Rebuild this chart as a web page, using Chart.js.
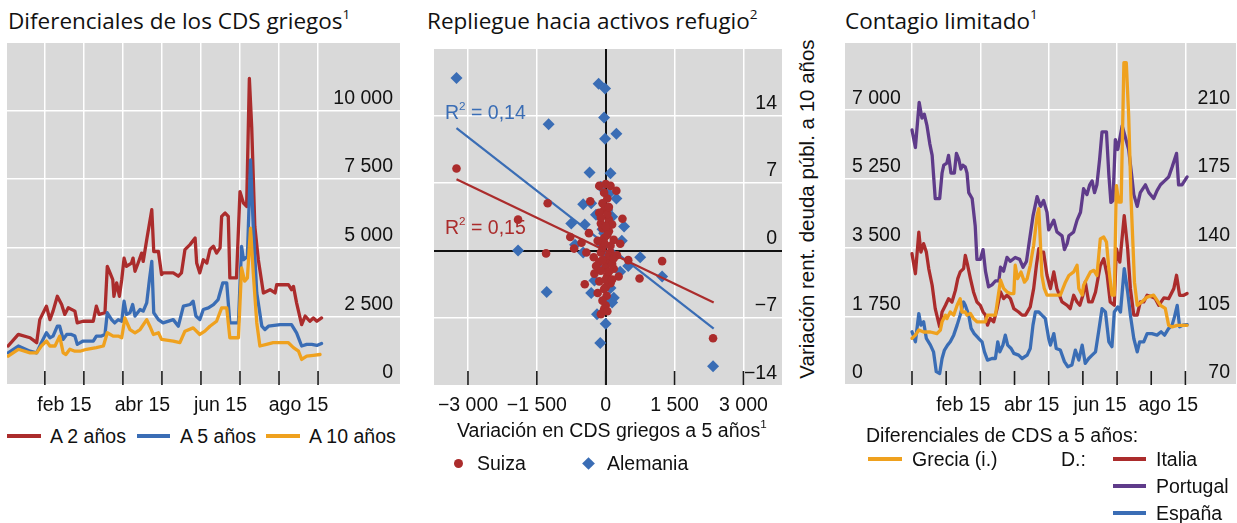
<!DOCTYPE html>
<html><head><meta charset="utf-8">
<script src="https://cdn.jsdelivr.net/npm/chart.js@4/dist/chart.umd.min.js"></script>
<style>
body{margin:0;background:#fff;width:1237px;height:523px;overflow:hidden;position:relative;font-family:'Liberation Sans',Arial,sans-serif;color:#111}
.t{position:absolute;white-space:nowrap;font-size:19.5px;line-height:22px}
.ttl{position:absolute;white-space:nowrap;font-family:'Open Sans',sans-serif;font-size:22.5px;line-height:26px;color:#111}
sup{font-size:0.6em;vertical-align:0.75em;line-height:0}
.sw{position:absolute;height:4px}
.cv{position:absolute}
</style></head><body>
<div class="ttl" style="left:8px;top:8px">Diferenciales de los CDS griegos<sup>1</sup></div>
<div class="ttl" style="left:427px;top:8px">Repliegue hacia activos refugio<sup>2</sup></div>
<div class="ttl" style="left:845px;top:8px">Contagio limitado<sup>1</sup></div>

<canvas id="c1" class="cv" width="393" height="382" style="left:7px;top:43px"></canvas>
<canvas id="c2" class="cv" width="360" height="382" style="left:428px;top:43px"></canvas>
<canvas id="c3" class="cv" width="391" height="382" style="left:845px;top:43px"></canvas>

<!-- panel 1 legend -->
<div class="sw" style="left:7px;top:434px;width:34px;background:#AB2C2C"></div><div class="t" style="left:50px;top:425px">A 2 años</div>
<div class="sw" style="left:137px;top:434px;width:33px;background:#3A6DB5"></div><div class="t" style="left:180px;top:425px">A 5 años</div>
<div class="sw" style="left:266px;top:434px;width:34px;background:#EFA11E"></div><div class="t" style="left:309px;top:425px">A 10 años</div>

<!-- panel 2 texts -->
<div class="t" style="left:445px;top:101px;color:#3A6DB5">R<sup>2</sup> = 0,14</div>
<div class="t" style="left:445px;top:216px;color:#AB2C2C">R<sup>2</sup> = 0,15</div>
<div class="t" style="left:457px;top:419px">Variación en CDS griegos a 5 años<sup>1</sup></div>
<div class="t" style="left:807px;top:198px;width:400px;margin-left:-200px;text-align:center;font-size:20.5px;transform:rotate(-90deg)">Variación rent. deuda públ. a 10 años</div>
<div style="position:absolute;left:454px;top:459px;width:9px;height:9px;border-radius:50%;background:#AB2C2C"></div><div class="t" style="left:477px;top:452px">Suiza</div>
<div style="position:absolute;left:584px;top:459px;width:9px;height:9px;background:#3A6DB5;transform:rotate(45deg)"></div><div class="t" style="left:607px;top:452px">Alemania</div>

<!-- panel 3 legend -->
<div class="t" style="left:866px;top:424px">Diferenciales de CDS a 5 años:</div>
<div class="sw" style="left:868px;top:457px;width:34px;background:#EFA11E"></div><div class="t" style="left:912px;top:448px">Grecia (i.)</div>
<div class="t" style="left:1061px;top:448px">D.:</div>
<div class="sw" style="left:1113px;top:457px;width:33px;background:#AB2C2C"></div><div class="t" style="left:1156px;top:448px">Italia</div>
<div class="sw" style="left:1113px;top:484px;width:33px;background:#5F3B8A"></div><div class="t" style="left:1156px;top:475px">Portugal</div>
<div class="sw" style="left:1113px;top:511px;width:33px;background:#3A6DB5"></div><div class="t" style="left:1156px;top:502px">España</div>

<script>
// ---------- colours ----------
const RED='#AB2C2C', BLUE='#3A6DB5', ORANGE='#EFA11E', PURPLE='#5F3B8A', GRAY='#D9D9D9';

// ---------- Panel 1: Greek CDS spreads (x = months since 1 Jan 2015) ----------
const p1X2y=[0.06,0.32,0.62,0.79,0.87,1.04,1.13,1.21,1.32,1.43,1.51,1.60,1.77,1.83,1.98,2.24,2.32,2.39,2.54,2.60,2.67,2.74,2.77,2.84,2.91,2.97,3.03,3.09,3.22,3.26,3.31,3.39,3.48,3.52,3.61,3.74,3.79,3.91,3.99,4.03,4.29,4.42,4.50,4.59,4.72,4.85,4.89,4.97,5.06,5.15,5.23,5.32,5.40,5.49,5.53,5.62,5.70,5.74,5.91,6.00,6.09,6.17,6.24,6.30,6.38,6.47,6.60,6.77,6.90,6.94,7.24,7.32,7.37,7.45,7.58,7.67,7.79,7.88,7.97,8.09];
const p1Y2y=[1420,1840,1720,1540,2380,2870,2380,2690,3230,2930,2570,2810,2690,2260,2320,2320,2870,2570,2630,4320,4080,3840,3230,3720,3230,3840,4620,4320,4440,4620,4140,4440,4800,4500,5290,6380,4860,4860,4020,4080,4080,3960,4080,4930,5110,5350,4440,4080,4560,4440,4930,5050,4800,4990,6140,6260,6140,3900,3900,7040,6620,6500,11160,9400,5770,4560,3350,3470,3350,3650,3650,3470,3590,2990,2200,2510,2320,2440,2320,2440];
const p1X5y=[0.06,0.32,0.62,0.79,0.91,1.04,1.13,1.21,1.32,1.38,1.47,1.56,1.68,1.77,1.83,1.98,2.24,2.32,2.45,2.54,2.60,2.71,2.79,2.88,2.97,3.03,3.09,3.18,3.25,3.31,3.44,3.52,3.61,3.68,3.74,3.79,3.91,4.03,4.29,4.42,4.55,4.72,4.80,4.87,4.97,5.06,5.19,5.32,5.44,5.56,5.66,5.74,5.96,6.04,6.09,6.19,6.27,6.34,6.43,6.56,6.64,6.73,7.03,7.32,7.45,7.58,7.71,7.84,7.97,8.09];
const p1Y5y=[1170,1420,1230,1170,1540,1900,1720,1780,2140,2140,1660,1840,1840,1780,1480,1600,1600,1780,1780,1840,2630,2380,2260,2380,2320,3050,2570,2630,2930,2510,2750,2690,2990,3840,4500,2630,2380,2260,2380,2140,2870,2930,3050,2510,2380,2750,2810,2930,3110,3720,3720,2260,2260,5050,4560,4680,8190,5770,3350,2140,2020,2140,2200,2200,1900,1420,1480,1480,1440,1510];
const p1X10y=[0.06,0.32,0.62,0.79,0.91,1.04,1.13,1.26,1.38,1.47,1.54,1.64,1.77,1.90,2.07,2.32,2.50,2.60,2.75,2.88,2.97,3.05,3.18,3.31,3.44,3.61,3.69,3.78,3.91,3.99,4.29,4.46,4.59,4.80,4.97,5.10,5.23,5.40,5.53,5.66,5.74,5.96,6.04,6.12,6.19,6.27,6.34,6.43,6.51,6.68,6.85,7.24,7.37,7.50,7.58,7.71,7.88,8.05];
const p1Y10y=[1050,1300,1170,1170,1420,1600,1420,1420,1780,1170,1110,1300,1230,1230,1300,1360,1420,1900,1780,1780,1720,2440,2020,1900,2020,2380,2140,1840,1900,1660,1600,1540,1960,2080,1840,1960,2140,2320,2810,2810,1720,1720,4260,3780,3900,5710,4080,2260,1420,1480,1540,1540,1360,1230,930,1050,1080,1110];
const p1YTicks=[0,2500,5000,7500,10000];
const p1YLabels=['0','2 500','5 000','7 500','10 000'];
const p1MonthStarts=[1,2,3,4,5,6,7,8];
const p1LabelPos=[1.5,3.5,5.5,7.5];
const p1Labels=['feb 15','abr 15','jun 15','ago 15'];

// ---------- Panel 2: scatter ----------
const suizaX=[-3250,-1264,-1909,-1299,-772,-688,-526,-365,-337,-140,0,105,232,35,-70,-35,365,-70,70,176,316,-421,-260,-105,105,246,491,737,1229,-140,0,176,-246,35,281,-456,-140,105,-175,0,21,0,-105,-35,-140,70,-105,140,-35,105,-70,35,140,-105,2338,-35,70,-70,35,0,70,-35,140,-175,0,-105,35,-35,70,175,-210,35,-70];
const suizaY=[8.5,4.9,3.2,-0.3,1.4,0.2,0.8,1.8,5.1,6.7,6.9,6.7,6.2,5.4,4.9,4.2,3.3,2.3,2.0,1.1,0.7,-0.2,-0.7,-0.2,-0.2,-0.5,-1.0,-2.9,-1.1,-1.2,-1.7,-1.9,-2.4,-2.6,-2.7,-3.5,-3.2,-3.4,-4.4,-3.8,-4.7,-5.7,-6.6,-6.1,3.9,3.2,2.8,2.7,1.3,0.5,0.3,-0.9,-1.4,-2.1,-9.1,0.8,-0.5,-1.0,1.6,-3.0,-2.2,-4.0,-3.0,1.0,2.5,3.4,3.8,6.0,4.5,-0.8,-1.6,-6.3,-5.2];
const alemX=[-3250,-154,-14,-1243,-35,232,-14,-351,105,232,-491,-316,-211,-751,-456,400,351,-667,-491,-1909,-1285,751,1229,491,316,-246,-316,176,140,-190,0,-119,-35,35,-140,70,-105,70,140,-70,35,105,2338,0,-70,35];
const alemY=[17.9,17.3,16.8,13.1,13.8,12.1,11.6,8.1,8.0,5.4,4.8,4.9,3.7,2.8,2.7,2.5,1.0,0.6,-0.2,0.0,-4.3,-0.7,-2.7,-1.6,-2.2,-3.1,-4.4,-4.9,-5.4,-6.6,-7.6,-9.6,1.8,4.2,-1.9,-3.2,6.6,5.9,3.5,2.2,-0.5,-3.9,-12.0,-5.0,0.5,-1.2];
const fitX=[-3250,2352];
const fitSuizaY=[7.4,-5.4];
const fitAlemY=[12.7,-8.1];
const p2XTicks=[-3000,-1500,0,1500,3000];
const p2XLabels=['\u22123 000','\u22121 500','0','1 500','3 000'];
const p2YTicks=[-14,-7,0,7,14];
const p2YLabels=['\u221214','\u22127','0','7','14'];

// ---------- Panel 3: contagion (x = months since 1 Jan 2015) ----------
const greX=[0,0.10,0.20,0.34,0.54,0.73,0.83,0.88,0.98,1.02,1.12,1.22,1.32,1.41,1.46,1.56,1.61,1.71,1.80,1.90,2.05,2.15,2.21,2.34,2.44,2.59,2.68,2.78,2.88,2.98,3.02,3.09,3.19,3.29,3.37,3.46,3.56,3.66,3.71,3.76,3.80,3.87,3.95,4.15,4.34,4.49,4.59,4.73,4.83,4.88,4.98,5.02,5.12,5.22,5.32,5.41,5.51,5.61,5.69,5.76,5.85,5.92,5.98,6.05,6.12,6.20,6.27,6.34,6.41,6.51,6.59,6.73,6.88,7.07,7.27,7.41,7.51,7.61,7.76,8.05];
const greY=[1190,1270,1400,1350,1350,1310,1400,1610,1780,1690,1860,1780,2030,2200,1860,1860,1780,1820,1690,1610,1610,1610,1780,1780,1780,2670,2460,2370,2330,2330,3050,2710,2880,2620,2710,3050,3560,4320,4490,3560,2790,2460,2290,2290,2290,2620,2790,2880,3050,2460,2290,2540,2710,2880,2920,2790,3720,3770,3640,2960,2290,2290,5080,4660,4660,8210,8210,6860,4740,2620,2030,2120,2240,2290,2030,1950,1520,1480,1520,1520];
const itaX=[0,0.10,0.20,0.26,0.34,0.42,0.49,0.59,0.68,0.81,0.88,0.98,1.07,1.17,1.27,1.34,1.41,1.51,1.56,1.63,1.71,1.80,1.90,2.00,2.08,2.15,2.21,2.29,2.39,2.49,2.59,2.68,2.78,2.88,2.98,3.12,3.22,3.32,3.46,3.56,3.64,3.71,3.76,3.85,3.95,4.05,4.15,4.24,4.39,4.54,4.63,4.73,4.83,4.91,5.00,5.07,5.17,5.27,5.37,5.51,5.61,5.71,5.80,5.92,5.98,6.08,6.21,6.31,6.39,6.49,6.59,6.68,6.78,6.88,7.02,7.12,7.22,7.37,7.51,7.66,7.74,7.83,7.95,8.05];
const itaY=[136.9,126.7,147.9,137.7,142.0,137.7,129.3,120.8,108.9,99.6,107.2,110.6,114.0,112.3,118.2,124.2,127.6,129.3,136.0,130.9,124.2,117.4,112.3,110.6,107.2,105.6,100.5,103.9,102.2,108.9,117.4,114.0,115.7,114.0,108.9,107.2,105.6,105.6,109.8,119.1,130.9,139.4,137.7,137.7,125.9,119.1,127.6,119.1,112.3,110.6,108.9,115.7,112.3,110.6,115.7,122.5,112.3,112.3,117.4,130.9,134.3,125.9,112.3,110.6,139.4,132.6,156.3,139.4,119.1,105.6,105.6,112.3,112.3,115.7,114.9,114.0,110.6,114.4,114.0,119.1,125.9,115.7,115.7,116.6];
const porX=[0,0.10,0.21,0.29,0.36,0.44,0.52,0.59,0.68,0.81,0.88,0.93,1.02,1.07,1.14,1.24,1.30,1.37,1.43,1.49,1.56,1.61,1.66,1.76,1.85,1.90,2.00,2.08,2.15,2.24,2.34,2.44,2.54,2.59,2.68,2.78,2.88,3.02,3.15,3.25,3.35,3.44,3.54,3.66,3.76,3.85,3.95,4.00,4.15,4.24,4.39,4.46,4.54,4.59,4.73,4.83,4.93,5.02,5.12,5.20,5.27,5.34,5.41,5.49,5.56,5.69,5.76,5.82,5.88,5.95,6.02,6.15,6.34,6.44,6.49,6.59,6.68,6.83,6.93,7.07,7.17,7.27,7.39,7.51,7.61,7.74,7.80,7.90,8.05];
const porY=[200,191,214,206,208,202,193,187,165,165,178,182,183,187,178,178,188,185,180,182,181,178,168,165,151,134,134,139,128,120,121,123,123,130,128,135,133,135,134,130,133,144,156,166,161,164,158,149,154,148,146,139,142,146,148,154,158,170,167,172,174,168,172,185,199,199,177,163,164,195,190,202,190,175,167,161,168,172,168,165,169,172,174,176,181,188,172,172,176];
const espX=[0,0.10,0.20,0.26,0.34,0.42,0.54,0.63,0.71,0.81,0.88,0.95,1.04,1.12,1.22,1.32,1.41,1.51,1.56,1.66,1.73,1.82,1.95,2.05,2.12,2.21,2.34,2.44,2.51,2.57,2.66,2.73,2.80,2.90,2.98,3.12,3.22,3.37,3.46,3.54,3.61,3.71,3.80,3.90,4.00,4.05,4.15,4.22,4.34,4.46,4.56,4.68,4.78,4.88,4.98,5.07,5.17,5.27,5.37,5.46,5.56,5.66,5.76,5.85,5.92,6.02,6.10,6.21,6.31,6.39,6.49,6.59,6.66,6.78,6.88,7.02,7.17,7.29,7.39,7.51,7.61,7.68,7.76,7.83,7.93,8.05];
const espY=[97.1,92.0,106.4,100.5,102.2,93.7,90.3,86.9,76.8,75.9,83.5,87.8,90.3,92.0,95.4,100.5,105.6,112.3,110.6,105.6,98.8,96.2,93.7,92.0,86.9,82.7,83.5,83.5,92.0,86.9,90.3,95.4,90.3,88.6,86.1,85.2,83.5,85.2,88.6,100.5,107.2,107.2,105.6,103.9,93.7,90.3,96.2,88.6,87.8,81.9,79.3,80.2,87.8,82.7,90.3,81.0,83.5,85.2,86.9,97.1,108.9,107.2,92.0,89.5,107.2,109.8,107.2,129.3,117.4,105.6,93.7,86.9,92.0,92.0,96.2,96.2,95.4,97.1,95.4,98.8,100.5,104.7,110.6,99.6,100.5,100.8];
const p3LTicks=[0,1750,3500,5250,7000];
const p3LLabels=['0','1 750','3 500','5 250','7 000'];
const p3RTicks=[70,105,140,175,210];
const p3RLabels=['70','105','140','175','210'];
const p3MonthStarts=[0,1,2,3,4,5,6,7,8];
const p3GridMonths=[0,2,4,6,8];
const p3LabelPos=[1.5,3.5,5.5,7.5];
const p3Labels=['feb 15','abr 15','jun 15','ago 15'];

// ---------- helpers ----------
const zip=(xs,ys)=>xs.slice(0,Math.min(xs.length,ys.length)).map((x,i)=>({x,y:ys[i]}));
Chart.defaults.font.family="'Liberation Sans', Arial, sans-serif";
Chart.defaults.font.size=19.5;
Chart.defaults.color='#111';

const bgPlugin={id:'bgArea',beforeDraw(c){const a=c.chartArea,g=c.ctx;g.save();g.fillStyle=GRAY;g.fillRect(a.left,a.top,a.right-a.left,a.bottom-a.top);g.restore();}};
const innerTicks={id:'innerTicks',beforeDatasetsDraw(c,args,opts){const a=c.chartArea,g=c.ctx,s=c.scales.x;g.save();g.strokeStyle='#1a1a1a';g.lineWidth=1.6;
  (opts.values||[]).forEach(v=>{const px=s.getPixelForValue(v);g.beginPath();g.moveTo(px,a.bottom-14);g.lineTo(px,a.bottom);g.stroke();});g.restore();}};

const yFit=s=>{s.width=0;s.paddingTop=0;s.paddingBottom=0;s.paddingLeft=0;s.paddingRight=0;};
const xFit=s=>{s.height=40;s.paddingTop=0;s.paddingBottom=0;s.paddingLeft=0;s.paddingRight=0;};
const lbl=(ticks,labels)=>v=>{const i=ticks.indexOf(v);return i<0?'':labels[i];};
const near=(a,v)=>a.some(t=>Math.abs(t-v)<1e-6);
const halfSteps=(from,to)=>{const r=[];for(let k=from*2;k<=to*2;k++)r.push({value:k/2});return r;};

const base={responsive:false,maintainAspectRatio:false,animation:false,events:[],
  layout:{padding:0},plugins:{legend:{display:false},tooltip:{enabled:false}}};
const lineDs=(label,xs,ys,color,order,axis)=>({label,data:zip(xs,ys),borderColor:color,backgroundColor:color,borderWidth:3.3,pointRadius:0,tension:0,order,yAxisID:axis||'y',borderJoinStyle:'round',borderCapStyle:'round'});

// ---------- Chart 1 ----------
new Chart(document.getElementById('c1'),{type:'line',
  data:{datasets:[lineDs('A 2 años',p1X2y,p1Y2y,RED,3),lineDs('A 5 años',p1X5y,p1Y5y,BLUE,2),lineDs('A 10 años',p1X10y,p1Y10y,ORANGE,1)]},
  options:{...base,plugins:{...base.plugins,innerTicks:{values:p1MonthStarts}},
    scales:{
      x:{type:'linear',min:0.03,max:10.1,afterBuildTicks:s=>{s.ticks=halfSteps(1,8);},afterFit:xFit,
        grid:{drawTicks:false,lineWidth:1.5,color:c=>near(p1MonthStarts,c.tick.value)?'#fff':'rgba(0,0,0,0)'},border:{display:false},
        ticks:{autoSkip:false,maxRotation:0,padding:9,callback:lbl(p1LabelPos,p1Labels)}},
      y:{position:'right',min:0,max:12450,afterBuildTicks:s=>{s.ticks=p1YTicks.map(v=>({value:v}));},afterFit:yFit,
        grid:{drawTicks:false,lineWidth:1.5,color:'#fff'},border:{display:false},
        ticks:{mirror:true,padding:-7,labelOffset:-12,callback:lbl(p1YTicks,p1YLabels)}}
    }},
  plugins:[bgPlugin,innerTicks]});

// ---------- Chart 2 ----------
new Chart(document.getElementById('c2'),{type:'scatter',
  data:{datasets:[
    {type:'line',label:'fit Suiza',data:zip(fitX,fitSuizaY),borderColor:RED,borderWidth:2.2,pointRadius:0,order:0},
    {label:'Suiza',data:zip(suizaX,suizaY),backgroundColor:RED,borderColor:RED,pointStyle:'circle',pointRadius:4.3,borderWidth:0,order:1},
    {type:'line',label:'fit Alemania',data:zip(fitX,fitAlemY),borderColor:BLUE,borderWidth:2.2,pointRadius:0,order:2},
    {label:'Alemania',data:zip(alemX,alemY),backgroundColor:BLUE,borderColor:BLUE,pointStyle:'rectRot',pointRadius:6,borderWidth:0,order:3}
  ]},
  options:{...base,plugins:{...base.plugins,innerTicks:{values:p2XTicks}},
    scales:{
      x:{type:'linear',min:-3740,max:3840,afterBuildTicks:s=>{s.ticks=p2XTicks.map(v=>({value:v}));},afterFit:xFit,
        grid:{drawTicks:false,lineWidth:c=>c.tick.value===0?2:1.5,color:c=>c.tick.value===0?'#111':'#fff'},border:{display:false},
        ticks:{autoSkip:false,maxRotation:0,padding:9,callback:lbl(p2XTicks,p2XLabels)}},
      y:{position:'right',min:-13.95,max:20.9,afterBuildTicks:s=>{s.ticks=p2YTicks.map(v=>({value:v}));},afterFit:yFit,
        grid:{drawTicks:false,lineWidth:c=>c.tick.value===0?2:1.5,color:c=>c.tick.value===0?'#111':'#fff'},border:{display:false},
        ticks:{mirror:true,padding:-5,labelOffset:-12,callback:lbl(p2YTicks,p2YLabels)}}
    }},
  plugins:[bgPlugin,innerTicks]});

// ---------- Chart 3 ----------
new Chart(document.getElementById('c3'),{type:'line',
  data:{datasets:[
    lineDs('Grecia (i.)',greX,greY,ORANGE,0,'yL'),
    lineDs('Italia',itaX,itaY,RED,1,'yR'),
    lineDs('Portugal',porX,porY,PURPLE,2,'yR'),
    lineDs('España',espX,espY,BLUE,3,'yR')]},
  options:{...base,plugins:{...base.plugins,innerTicks:{values:p3MonthStarts}},
    scales:{
      x:{type:'linear',min:-1.96,max:9.48,afterBuildTicks:s=>{s.ticks=halfSteps(0,8);},afterFit:xFit,
        grid:{drawTicks:false,lineWidth:1.5,color:c=>near(p3GridMonths,c.tick.value)?'#fff':'rgba(0,0,0,0)'},border:{display:false},
        ticks:{autoSkip:false,maxRotation:0,padding:9,callback:lbl(p3LabelPos,p3Labels)}},
      yL:{position:'left',min:0,max:8712,afterBuildTicks:s=>{s.ticks=p3LTicks.map(v=>({value:v}));},afterFit:yFit,
        grid:{drawTicks:false,lineWidth:1.5,color:'#fff'},border:{display:false},
        ticks:{mirror:true,padding:7,labelOffset:-12,callback:lbl(p3LTicks,p3LLabels)}},
      yR:{position:'right',min:70,max:244.24,afterBuildTicks:s=>{s.ticks=p3RTicks.map(v=>({value:v}));},afterFit:yFit,
        grid:{display:false},border:{display:false},
        ticks:{mirror:true,padding:-6,labelOffset:-12,callback:lbl(p3RTicks,p3RLabels)}}
    }},
  plugins:[bgPlugin,innerTicks]});
</script>
</body></html>
